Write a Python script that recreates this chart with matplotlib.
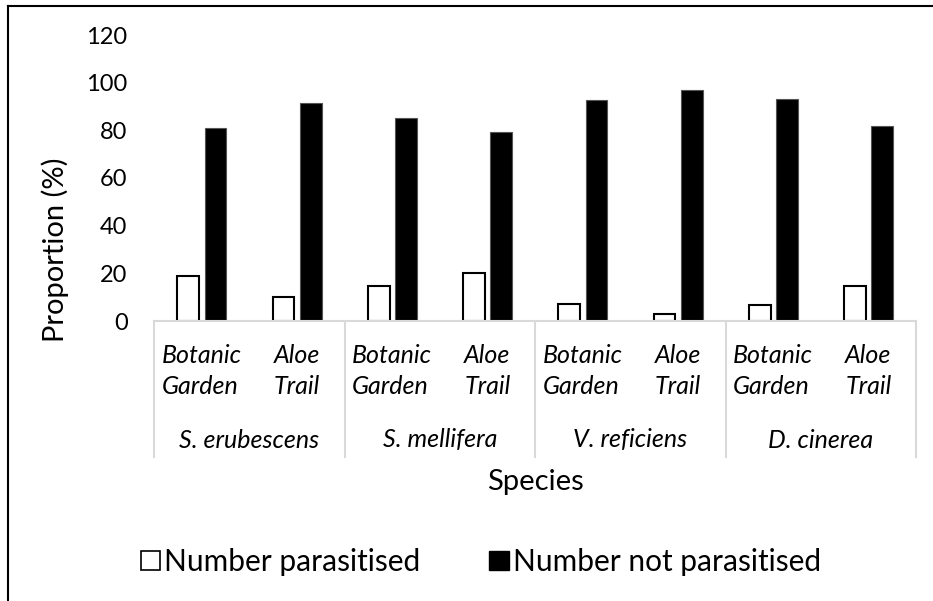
import matplotlib.pyplot as plt
from matplotlib.patches import Patch
from matplotlib.lines import Line2D
import matplotlib.transforms as mtransforms

plt.rcParams["font.family"] = ["Lato", "DejaVu Sans"]

species = ["S. erubescens", "S. mellifera", "V. reficiens", "D. cinerea"]
sites = ["Botanic\nGarden", "Aloe\nTrail"]
parasitised = [19, 10, 14.7, 20.3, 7, 2.9, 6.8, 14.8]
not_parasitised = [81, 91.6, 85, 79.3, 92.7, 96.9, 93, 81.8]

W, H = 933, 601
fig = plt.figure(figsize=(W / 100, H / 100), dpi=100)
ax = fig.add_axes([154 / W, 1 - 321 / H, (916 - 154) / W, (321 - 35) / H])

x = list(range(len(parasitised)))
bw = 0.23
ax.bar([i - 0.14 for i in x], parasitised, width=bw, color="white",
       edgecolor="black", linewidth=1.5, label="Number parasitised")
ax.bar([i + 0.146 for i in x], not_parasitised, width=bw, color="black",
       edgecolor="#555555", linewidth=0.8, label="Number not parasitised")

ax.set_xlim(-0.5, len(x) - 0.5)
ax.set_ylim(0, 120)
ax.set_yticks(range(0, 121, 20))
ax.tick_params(axis="y", length=0, labelsize=17, pad=19)
ax.set_xticks([])
for s in ["top", "right", "left"]:
    ax.spines[s].set_visible(False)
ax.spines["bottom"].set_color("#d9d9d9")
ax.spines["bottom"].set_linewidth(1.5)

# multi-level category axis
tr = mtransforms.blended_transform_factory(ax.transData, fig.transFigure)
for i in range(0, len(x) + 1, 2):
    ax.add_line(Line2D([i - 0.5, i - 0.5], [1 - 321 / H, 1 - 457 / H],
                       transform=tr, color="#d9d9d9", lw=1.5, clip_on=False))
for i in x:
    ax.text(i, 1 - 371 / H, sites[i % 2], transform=tr, ha="center",
            va="center", ma="left", style="italic", fontsize=18,
            linespacing=1.45)
for g, name in enumerate(species):
    ax.text(2 * g + 0.5, 1 - 440 / H, name, transform=tr, ha="center",
            va="center", style="italic", fontsize=18)

fig.text(535 / W, 1 - 482 / H, "Species", ha="center", va="center", fontsize=21)
fig.text(55 / W, 1 - 250 / H, "Proportion (%)", ha="center", va="center",
         rotation=90, fontsize=21)

handles = [Patch(facecolor="white", edgecolor="black", linewidth=1.2),
           Patch(facecolor="black", edgecolor="black")]
fig.legend(handles, ["Number parasitised", "Number not parasitised"],
           loc="center", bbox_to_anchor=(481 / W, 1 - 562 / H), ncol=2,
           frameon=False, fontsize=21.5, handlelength=0.65, handleheight=0.65,
           handletextpad=0.15, columnspacing=2.3)

# outer chart frame (only top and left edges visible)
fig.add_artist(Line2D([8 / W, 1], [1 - 6 / H, 1 - 6 / H], transform=fig.transFigure,
                      color="black", lw=1.5))
fig.add_artist(Line2D([8 / W, 8 / W], [0, 1 - 6 / H], transform=fig.transFigure,
                      color="black", lw=1.5))

fig.savefig("out.png", dpi=100)
